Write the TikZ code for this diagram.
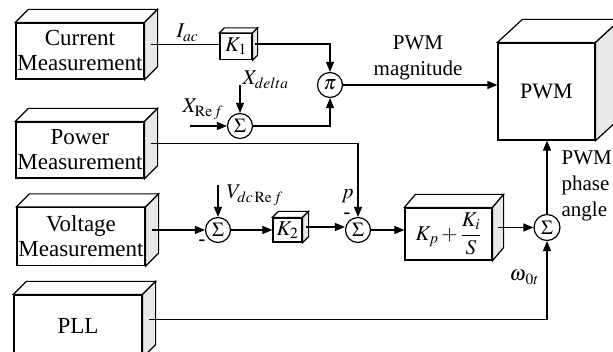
\documentclass[tikz,border=0pt]{standalone}
\usepackage{amsmath}
\usepackage{mathptmx}
\usepackage[no-math]{fontspec}
\setmainfont{Liberation Serif}
\usetikzlibrary{arrows.meta,positioning}
\definecolor{sidegray}{RGB}{232,232,232}
% top and side faces of a box node, depth (#2,#3); #1-out is the middle of the side face
\newcommand{\cubefaces}[3]{%
  \draw[fill=white] (#1.north west) -- ++(#2,#3) -- ([shift={(#2,#3)}]#1.north east) -- (#1.north east) -- cycle;
  \draw[fill=sidegray] (#1.north east) -- ([shift={(#2,#3)}]#1.north east) -- ([shift={(#2,#3)}]#1.south east) -- (#1.south east) -- cycle;
  \coordinate (#1-out) at ([shift={(#2/2,#3/2)}]#1.east);
}

\begin{document}
\begin{tikzpicture}[
    x=1pt, y=-1pt, line width=1.2pt,
    meas/.style={draw,fill=white,align=center,inner sep=0pt,minimum width=128pt,minimum height=56pt,font=\fontsize{23}{25}\selectfont},
    gain/.style={draw,fill=white,inner sep=0pt,minimum width=32pt,minimum height=26pt,font=\fontsize{21}{24}\selectfont},
    sum/.style={draw,circle,inner sep=0pt,minimum size=25pt,font=\fontsize{20}{22}\selectfont},
    lbl/.style={inner sep=0pt,font=\fontsize{21}{26}\selectfont},
    minus/.style={inner sep=0pt,font=\fontsize{20}{20}\selectfont\bfseries},
    arrow/.style={-{Triangle[length=10pt,width=8pt]}}
  ]
    \useasboundingbox (0,0) rectangle (613,352);

    % measurement blocks on the left
    \node[meas] (cur) at (80,51) {Current\\Measurement};
    \node[meas] (pow) at (80,150) {Power\\Measurement};
    \node[meas,minimum height=58pt] (vol) at (81,236.5) {Voltage\\Measurement};
    \node[meas,minimum height=62pt] (pll) at (78,326) {PLL};
    \cubefaces{cur}{13}{-13}
    \cubefaces{pow}{13}{-13}
    \cubefaces{vol}{13}{-13}
    \cubefaces{pll}{13}{-13}

    % gains, summing points and the PI block
    \node[gain] (k1) at (236,46.5) {$K_1$};
    \cubefaces{k1}{5}{-5}
    \node[sum] (mul) at (330,85) {$\pi$};
    \node[sum] (s1) at (240,126) {$\Sigma$};
    \node[sum] (s2) at (218,230) {$\Sigma$};
    \node[gain,minimum width=29pt,minimum height=24pt] (k2) at (287.5,230) {$K_2$};
    \cubefaces{k2}{6}{-6}
    \node[sum] (s3) at (358,230) {$\Sigma$};
    \node[meas,minimum width=87pt,minimum height=52pt,font=\fontsize{21}{24}\selectfont] (ctrl) at (448.5,234) {$K_p+\dfrac{K_i}{S}$};
    \cubefaces{ctrl}{11}{-13}
    \node[sum,minimum size=26pt] (s4) at (547,227.5) {$\Sigma$};

    % PWM block
    \node[meas,minimum width=97pt,minimum height=97pt,font=\fontsize{22}{25}\selectfont] (pwm) at (546.5,91.5) {PWM};
    \cubefaces{pwm}{25}{-23}

    % free ends of the reference inputs
    \coordinate (xd) at (240,85);
    \coordinate (xr) at (190,126);
    \coordinate (vr) at (218,185);

    % magnitude path
    \draw (cur-out) -- (cur-out -| k1.west);
    \draw[arrow] (k1-out) -| (mul.north);
    \draw[arrow] (xd) -- (s1.north);
    \draw[arrow] (xr) -- (s1.west);
    \draw[arrow] (s1.east) -| (mul.south);
    \draw[arrow] (mul.east) -- (mul -| pwm.west);

    % phase path
    \draw[arrow] (vr) -- (s2.north);
    \draw[arrow] (vol-out) -- (vol-out -| s2.west);
    \draw[arrow] (s2.east) -- (k2.west);
    \draw[arrow] (k2-out) -- (k2-out -| s3.west);
    \draw[arrow] (pow-out) -| (s3.north);
    \draw[arrow] (s3.east) -- (s3 -| ctrl.west);
    \draw[arrow] (ctrl-out) -- (ctrl-out -| s4.west);
    \draw[arrow] (pll-out) -| (s4.south);
    \draw[arrow] (s4.north) -- (s4 |- pwm.south);

    % signal labels
    \node[lbl,anchor=base west] (iac) at (176,38) {$I_{ac}$};
    \node[lbl,anchor=base west] (xdl) at (242,85) {$X_{delta}$};
    \node[lbl,anchor=base west] (xrl) at (182,113) {$X_{\mathrm{Re}\,f}$};
    \node[lbl,anchor=base west] (vrl) at (226,199) {$V_{dc\,\mathrm{Re}\,f}$};
    \node[lbl,anchor=base west] (pl) at (341,199) {$p$};
    \node[lbl,anchor=base west] (wl) at (509,281) {$\omega_{\,0t}$};
    \node[lbl,align=center] (magl) at (418,58) {PWM\\magnitude};
    \node[lbl,align=left,anchor=north west] (phl) at (561,150) {PWM\\phase\\angle};
    \node[minus] (m2) at (202,243) {-};
    \node[minus] (m3) at (347,216) {-};
\end{tikzpicture}
\end{document}
